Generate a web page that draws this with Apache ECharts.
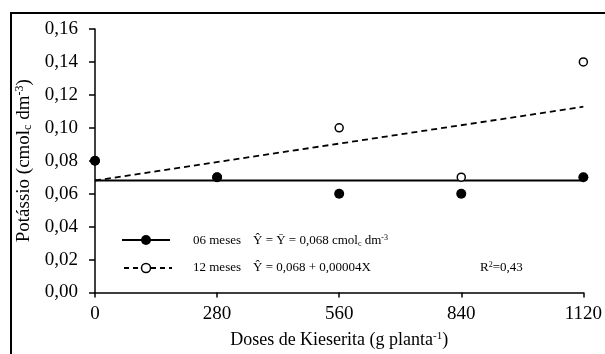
<!DOCTYPE html>
<html>
<head>
<meta charset="utf-8">
<script src="https://cdn.jsdelivr.net/npm/echarts@6/dist/echarts.min.js"></script>
<style>
  html, body { margin: 0; padding: 0; background: #fff; }
  #chart { width: 605px; height: 354px; }
</style>
</head>
<body>
<div id="chart"></div>
<script>
// dados
var doses = [0, 280, 560, 840, 1120];
var meses06 = [0.08, 0.07, 0.06, 0.06, 0.07];
var meses12 = [0.08, 0.07, 0.10, 0.07, 0.14];
// retas ajustadas (extremos 0 e 1120)
var fitX = [0, 1120];
var fit06 = [0.068, 0.068];
var fit12 = [0.068, 0.1128];

var serif = 'Liberation Serif';

function pares(xs, ys) {
  return xs.map(function (x, i) { return [x, ys[i]]; });
}

var chart = echarts.init(document.getElementById('chart'));

var option = {
  backgroundColor: '#fff',
  animation: false,
  textStyle: { fontFamily: serif, color: '#000' },
  grid: { left: 95, right: 20, top: 29, bottom: 61 },
  xAxis: {
    type: 'value',
    min: 0,
    max: 1120,
    interval: 280,
    name: 'Doses de Kieserita (g planta{sup|-1})',
    nameLocation: 'middle',
    nameGap: 38,
    nameTextStyle: {
      fontFamily: serif, fontSize: 18, color: '#000',
      rich: { sup: { fontFamily: serif, fontSize: 11, verticalAlign: 'top', padding: [0, 0, 8, 0] } }
    },
    axisLine: { lineStyle: { color: '#000', width: 1.5 } },
    axisTick: { length: 5, lineStyle: { color: '#000', width: 1.5 } },
    axisLabel: {
      fontFamily: serif, fontSize: 19, color: '#000', margin: 12,
      formatter: function (v) { return String(v); }
    },
    splitLine: { show: false }
  },
  yAxis: {
    type: 'value',
    min: 0,
    max: 0.16,
    interval: 0.02,
    name: 'Potássio (cmol{sub|c} dm{sup|-3})',
    nameLocation: 'middle',
    nameRotate: 90,
    nameGap: 58,
    nameTextStyle: {
      fontFamily: serif, fontSize: 19, color: '#000',
      rich: {
        sup: { fontFamily: serif, fontSize: 12, verticalAlign: 'top', padding: [0, 0, 8, 0] },
        sub: { fontFamily: serif, fontSize: 12, verticalAlign: 'bottom', padding: [8, 0, 0, 0] }
      }
    },
    axisLine: { show: true, lineStyle: { color: '#000', width: 1.5 } },
    axisTick: { show: true, length: 6, lineStyle: { color: '#000', width: 1.5 } },
    axisLabel: {
      fontFamily: serif, fontSize: 19, color: '#000', margin: 17,
      formatter: function (v) { return v.toFixed(2).replace('.', ','); }
    },
    splitLine: { show: false }
  },
  series: [
    {
      name: 'ajuste 12',
      type: 'line',
      data: pares(fitX, fit12),
      showSymbol: false,
      lineStyle: { color: '#000', width: 1.8, type: [6, 4] },
      z: 1
    },
    {
      name: 'ajuste 06',
      type: 'line',
      data: pares(fitX, fit06),
      showSymbol: false,
      lineStyle: { color: '#000', width: 1.8 },
      z: 1
    },
    {
      name: '12 meses',
      type: 'scatter',
      data: pares(doses, meses12),
      symbol: 'circle',
      symbolSize: 8,
      itemStyle: { color: '#fff', borderColor: '#000', borderWidth: 1.5, opacity: 1 },
      z: 2
    },
    {
      name: '06 meses',
      type: 'scatter',
      data: pares(doses, meses06),
      symbol: 'circle',
      symbolSize: 10,
      itemStyle: { color: '#000', opacity: 1 },
      z: 3
    }
  ],
  graphic: [
    // moldura externa
    { type: 'rect', shape: { x: 11, y: 13, width: 620, height: 400 },
      style: { fill: 'none', stroke: '#000', lineWidth: 2 }, silent: true },
    // legenda
    { type: 'line', shape: { x1: 122, y1: 240, x2: 170, y2: 240 },
      style: { stroke: '#000', lineWidth: 1.8 } },
    { type: 'circle', shape: { cx: 146, cy: 240, r: 5 }, style: { fill: '#000' } },
    { type: 'line', shape: { x1: 124, y1: 268, x2: 172, y2: 268 },
      style: { stroke: '#000', lineWidth: 1.8, lineDash: [5, 4] } },
    { type: 'circle', shape: { cx: 146, cy: 268, r: 4.5 },
      style: { fill: '#fff', stroke: '#000', lineWidth: 1.5 } },
    { type: 'text', x: 193, y: 241,
      style: { text: '06 meses', font: '13px "Liberation Serif"', fill: '#000', verticalAlign: 'middle' } },
    { type: 'text', x: 253, y: 241,
      style: {
        text: 'Ŷ = Ȳ = 0,068 cmol{sub|c} dm{sup|-3}', fill: '#000', verticalAlign: 'middle',
        fontFamily: serif, fontSize: 13,
        rich: {
          sub: { fontFamily: serif, fontSize: 8, verticalAlign: 'bottom', padding: [6, 0, 0, 0] },
          sup: { fontFamily: serif, fontSize: 8, verticalAlign: 'top', padding: [0, 0, 6, 0] }
        }
      } },
    { type: 'text', x: 193, y: 268,
      style: { text: '12 meses', font: '13px "Liberation Serif"', fill: '#000', verticalAlign: 'middle' } },
    { type: 'text', x: 253, y: 268,
      style: { text: 'Ŷ = 0,068 + 0,00004X', font: '13px "Liberation Serif"', fill: '#000', verticalAlign: 'middle' } },
    { type: 'text', x: 480, y: 268,
      style: {
        text: 'R{sup|2}=0,43', fill: '#000', verticalAlign: 'middle',
        fontFamily: serif, fontSize: 13,
        rich: { sup: { fontFamily: serif, fontSize: 8, verticalAlign: 'top', padding: [0, 0, 6, 0] } }
      } }
  ]
};

chart.setOption(option);
</script>
</body>
</html>
